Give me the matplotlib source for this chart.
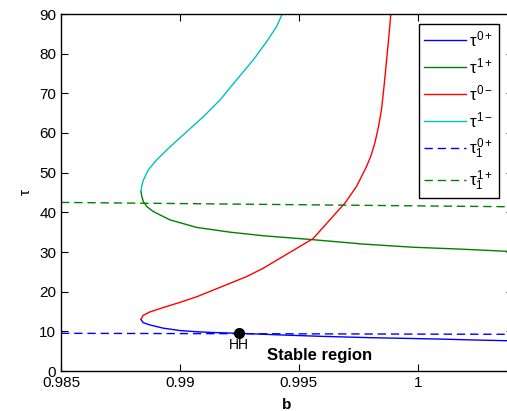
import matplotlib
matplotlib.use('Agg')
import matplotlib.pyplot as plt
import numpy as np

plt.rcParams['font.family'] = ['Liberation Sans', 'DejaVu Sans']
plt.rcParams['mathtext.fontset'] = 'custom'
plt.rcParams['mathtext.rm'] = 'Liberation Sans'
plt.rcParams['mathtext.it'] = 'Liberation Sans'
plt.rcParams['mathtext.bf'] = 'Liberation Sans:bold'

# tau^{0+} branch (from the fold going right)
b_t0p = [0.98836, 0.98845, 0.98874, 0.98930, 0.99000, 0.99070, 0.99140, 0.99249,
         0.99420, 0.99588, 0.99800, 1.00092, 1.00250, 1.00400]
tau_t0p = [13.0, 12.2, 11.6, 10.8, 10.2, 9.9, 9.7, 9.5,
           9.1, 8.75, 8.4, 8.05, 7.8, 7.6]

# tau^{0-} branch (from the fold going up)
b_t0m = [0.98836, 0.98845, 0.98874, 0.98930, 0.99000, 0.99070, 0.99140, 0.99210,
         0.99280, 0.99350, 0.99420, 0.99490, 0.99560, 0.99630, 0.99693, 0.99742,
         0.99784, 0.99803, 0.99819, 0.99834, 0.99847, 0.99858, 0.99868, 0.99878, 0.99887]
tau_t0m = [13.0, 14.0, 14.9, 16.0, 17.3, 18.7, 20.4, 22.1,
           23.8, 25.9, 28.4, 30.9, 33.4, 38.1, 42.3, 46.5,
           51.5, 54.3, 57.4, 61.4, 65.8, 71.8, 78.0, 84.2, 90.5]

# tau^{1+} branch (from the fold going right)
b_t1p = [0.98836, 0.98839, 0.98846, 0.98862, 0.98888, 0.98958, 0.99070, 0.99210,
         0.99350, 0.99560, 0.99770, 0.99980, 1.00190, 1.00400]
tau_t1p = [45.3, 44.2, 42.7, 41.4, 40.2, 38.1, 36.2, 35.0,
           34.1, 33.1, 32.0, 31.2, 30.7, 30.1]

# tau^{1-} branch (from the fold going up)
b_t1m = [0.98836, 0.98839, 0.98846, 0.98867, 0.98902, 0.98958, 0.99028, 0.99098,
         0.99168, 0.99238, 0.99308, 0.99364, 0.99406, 0.99434]
tau_t1m = [45.3, 46.6, 48.1, 50.7, 53.2, 56.5, 60.3, 64.1,
           68.3, 73.4, 78.4, 83.0, 86.8, 90.5]

# tau_1 curves (nearly flat)
b_t1 = [0.985, 1.004]
tau1_0p = [9.5, 9.25]
tau1_1p = [42.5, 41.4]

# Hopf-Hopf point
b_hh, tau_hh = 0.99249, 9.5

fig = plt.figure(figsize=(5.07, 4.11), dpi=100)
ax = fig.add_axes([61/507, 40/411, 452/507, 357/411])

lw = 1.0
ax.plot(b_t0p, tau_t0p, color='#0000ff', lw=lw, label=r'$\tau^{0+}$')
ax.plot(b_t1p, tau_t1p, color='#008000', lw=lw, label=r'$\tau^{1+}$')
ax.plot(b_t0m, tau_t0m, color='#ff0000', lw=lw, label=r'$\tau^{0-}$')
ax.plot(b_t1m, tau_t1m, color='#00bfbf', lw=lw, label=r'$\tau^{1-}$')
ax.plot(b_t1, tau1_0p, color='#0000ff', lw=lw, dashes=(6, 3.5), label=r'$\tau_1^{0+}$')
ax.plot(b_t1, tau1_1p, color='#008000', lw=lw, dashes=(6, 3.5), label=r'$\tau_1^{1+}$')

ax.plot([b_hh], [tau_hh], 'o', color='black', markersize=7, zorder=5)
ax.text(b_hh, 6.6, 'HH', ha='center', va='center', fontsize=10)
ax.text(0.99588, 3.8, 'Stable region', ha='center', va='center', fontsize=12, fontweight='bold')

ax.set_xlim(0.985, 1.004)
ax.set_ylim(0, 90)
ax.set_xticks([0.985, 0.99, 0.995, 1.0])
ax.set_xticklabels(['0.985', '0.99', '0.995', '1'])
ax.set_yticks(np.arange(0, 91, 10))
ax.tick_params(direction='in', top=True, right=True, labelsize=11, length=5, width=0.8)
for s in ax.spines.values():
  s.set_linewidth(1.0)

ax.set_xlabel('b', fontsize=11, fontweight='bold')
ax.xaxis.set_label_coords((287 - 61) / 452, -0.075)
ax.set_ylabel(r'$\tau$', fontsize=11)
ax.yaxis.set_label_coords((33 - 61) / 452, 0.5)

leg = ax.legend(loc='upper left', bbox_to_anchor=(419/507, 1 - 24/411),
                bbox_transform=fig.transFigure, borderaxespad=0, fancybox=False,
                edgecolor='black', framealpha=1, fontsize=12, handlelength=2.5,
                labelspacing=0.42, handletextpad=0.2, borderpad=0.32)
leg.get_frame().set_linewidth(1.0)

fig.savefig('out.png', dpi=100)
